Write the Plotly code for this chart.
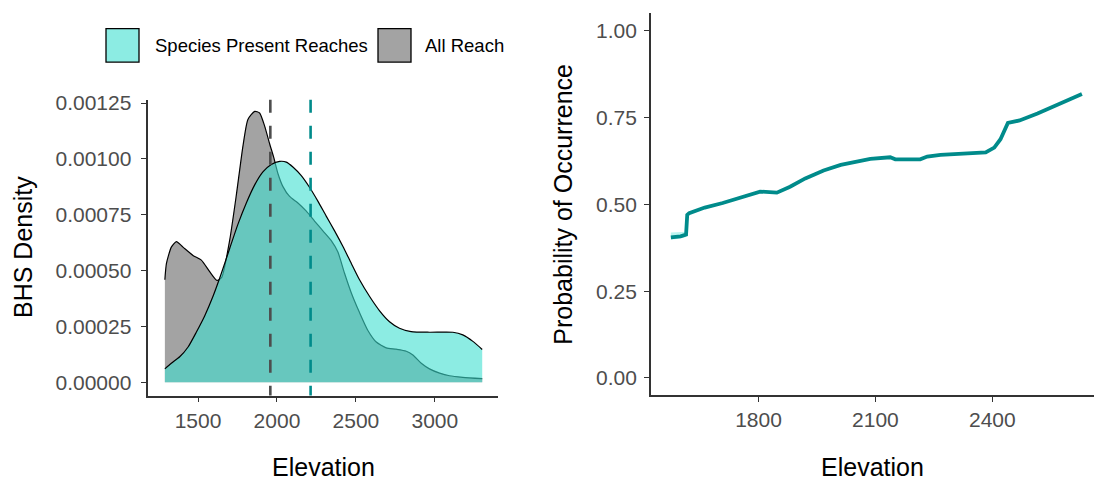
import plotly.graph_objects as go

# ---- data -------------------------------------------------------------
# Density of elevation: all reaches vs reaches where the species is present
all_x = [1290, 1300, 1331, 1363, 1405, 1468, 1521, 1574, 1620, 1650, 1700, 1743,
         1785, 1816, 1859, 1890, 1922, 1954, 1979, 2006, 2038, 2080, 2133, 2186,
         2238, 2291, 2344, 2386, 2428, 2471, 2523, 2576, 2629, 2692, 2755, 2819,
         2861, 2914, 2966, 3030, 3093, 3177, 3300]
all_y = [0.000459, 0.000532, 0.000605, 0.000630, 0.000605, 0.000568, 0.000547,
         0.000495, 0.000456, 0.000470, 0.000634, 0.000840, 0.001060, 0.001177,
         0.001213, 0.001206, 0.001147, 0.001067, 0.001008, 0.000935, 0.000876,
         0.000832, 0.000803, 0.000766, 0.000722, 0.000678, 0.000634, 0.000583,
         0.000488, 0.000400, 0.000312, 0.000232, 0.000180, 0.000154, 0.000148,
         0.000139, 0.000122, 0.000085, 0.000060, 0.000041, 0.000029, 0.000022,
         0.000016]

present_x = [1290, 1331, 1384, 1437, 1489, 1542, 1595, 1648, 1700, 1753, 1806,
             1859, 1911, 1964, 2017, 2059, 2101, 2154, 2207, 2260, 2312, 2365,
             2418, 2471, 2523, 2586, 2650, 2713, 2776, 2850, 2966, 3114, 3177,
             3241, 3300]
present_y = [0.000060, 0.000085, 0.000114, 0.000158, 0.000224, 0.000297, 0.000385,
             0.000488, 0.000598, 0.000708, 0.000803, 0.000884, 0.000942, 0.000975,
             0.000989, 0.000986, 0.000964, 0.000925, 0.000872, 0.000810, 0.000744,
             0.000678, 0.000608, 0.000532, 0.000459, 0.000385, 0.000320, 0.000271,
             0.000242, 0.000227, 0.000224, 0.000224, 0.000212, 0.000183, 0.000147]

# mean elevation of each group
mean_elev = {"All Reach": 1958, "Species Present Reaches": 2213}

# Predicted probability of occurrence along elevation
prob_x = [1575, 1600, 1614, 1617, 1622, 1662, 1708, 1745, 1782, 1804, 1847, 1881,
          1920, 1967, 2011, 2057, 2087, 2138, 2151, 2215, 2233, 2267, 2310, 2353,
          2383, 2405, 2421, 2440, 2470, 2516, 2561, 2607, 2630]
prob_y = [0.405, 0.408, 0.413, 0.470, 0.475, 0.491, 0.504, 0.516, 0.529, 0.537,
          0.534, 0.551, 0.575, 0.598, 0.614, 0.626, 0.631, 0.636, 0.630, 0.630,
          0.638, 0.643, 0.645, 0.647, 0.650, 0.664, 0.688, 0.735, 0.742, 0.762,
          0.783, 0.805, 0.818]
band_x = [1575, 1590, 1605, 1614]
band_lo = [0.398, 0.400, 0.403, 0.406]
band_hi = [0.419, 0.419, 0.420, 0.421]

density_ticks = [0, 0.00025, 0.0005, 0.00075, 0.001, 0.00125]
elev_ticks_left = [1500, 2000, 2500, 3000]
elev_ticks_right = [1800, 2100, 2400]
prob_ticks = [0, 0.25, 0.5, 0.75, 1.0]

# ---- styling ----------------------------------------------------------
W, H = 1094, 488
FONT = "Liberation Sans, Arial, sans-serif"
TEAL_FILL = "rgba(64,224,208,0.6)"
GREY_FILL = "rgba(102,102,102,0.6)"
DARKCYAN = "#008B8B"
GREY_LINE = "#4D4D4D"
AXIS = "#333333"
TICKFONT = dict(family=FONT, size=21, color="#4D4D4D")


def px_x(v):
    return v / W


def px_y(v):
    return 1 - v / H


fig = go.Figure()

# left panel: densities (all reaches underneath)
fig.add_trace(go.Scatter(
    x=all_x, y=all_y, mode="lines", fill="tozeroy", fillcolor=GREY_FILL,
    line=dict(color="black", width=1.2, shape="spline", smoothing=0.6),
    xaxis="x", yaxis="y", showlegend=False, hoverinfo="skip"))
fig.add_trace(go.Scatter(
    x=present_x, y=present_y, mode="lines", fill="tozeroy", fillcolor=TEAL_FILL,
    line=dict(color="black", width=1.2, shape="spline", smoothing=0.6),
    xaxis="x", yaxis="y", showlegend=False, hoverinfo="skip"))

# right panel: probability curve with its narrow band
fig.add_trace(go.Scatter(
    x=band_x + band_x[::-1], y=band_hi + band_lo[::-1], fill="toself",
    fillcolor="rgba(64,224,208,0.35)", line=dict(width=0), mode="lines",
    xaxis="x2", yaxis="y2", showlegend=False, hoverinfo="skip"))
fig.add_trace(go.Scatter(
    x=prob_x, y=prob_y, mode="lines", line=dict(color=DARKCYAN, width=3.8),
    xaxis="x2", yaxis="y2", showlegend=False))

# mean lines
for name, colour in (("All Reach", GREY_LINE), ("Species Present Reaches", DARKCYAN)):
    fig.add_shape(type="line", xref="x", yref="y domain",
                  x0=mean_elev[name], x1=mean_elev[name], y0=1, y1=0,
                  line=dict(color=colour, width=2.6, dash="13px,13px"))

# legend keys
legend_items = [("Species Present Reaches", TEAL_FILL, 106, 153),
                ("All Reach", GREY_FILL, 378, 423)]
for label, fill, kx, tx in legend_items:
    fig.add_shape(type="rect", xref="paper", yref="paper",
                  x0=px_x(kx), x1=px_x(kx + 33), y0=px_y(55), y1=px_y(21),
                  fillcolor=fill, line=dict(color="black", width=1.3))
    fig.add_annotation(xref="paper", yref="paper", x=px_x(tx), y=px_y(38),
                       text=label, showarrow=False, xanchor="left", yanchor="middle",
                       font=dict(family=FONT, size=18.5, color="black"))

# axis titles
titles = [("Elevation", 323, 467, 0), ("Elevation", 872, 467, 0),
          ("BHS Density", 23, 243, -90), ("Probability of Occurrence", 563, 200, -90)]
for text, x, y, rot in titles:
    fig.add_annotation(xref="paper", yref="paper", x=px_x(x), y=px_y(y), text=text,
                       showarrow=False, textangle=rot, xanchor="center", yanchor="middle",
                       font=dict(family=FONT, size=25, color="black"))

axis_common = dict(showgrid=False, zeroline=False, showline=True, linecolor=AXIS,
                   linewidth=1.8, ticks="outside", ticklen=5, tickwidth=1.3,
                   tickcolor=AXIS, tickfont=TICKFONT)

fig.update_layout(
    width=W, height=H, margin=dict(l=0, r=0, t=0, b=0),
    paper_bgcolor="white", plot_bgcolor="white",
    xaxis=dict(domain=[px_x(147.5), px_x(498)], range=[1180, 3400], anchor="y",
               tickvals=elev_ticks_left, **axis_common),
    yaxis=dict(domain=[px_y(394), px_y(93.3)], range=[-0.0000595, 0.001265], anchor="x",
               tickvals=density_ticks, ticktext=[f"{v:.5f}" for v in density_ticks],
               ticklabelstandoff=5, **axis_common),
    xaxis2=dict(domain=[px_x(651), 1.0], range=[1524, 2661], anchor="y2",
                tickvals=elev_ticks_right, **axis_common),
    yaxis2=dict(domain=[px_y(393.7), px_y(5)], range=[-0.05, 1.052], anchor="x2",
                tickvals=prob_ticks, ticktext=[f"{v:.2f}" for v in prob_ticks],
                ticklabelstandoff=3, **axis_common),
)

fig.write_html("out.html")
